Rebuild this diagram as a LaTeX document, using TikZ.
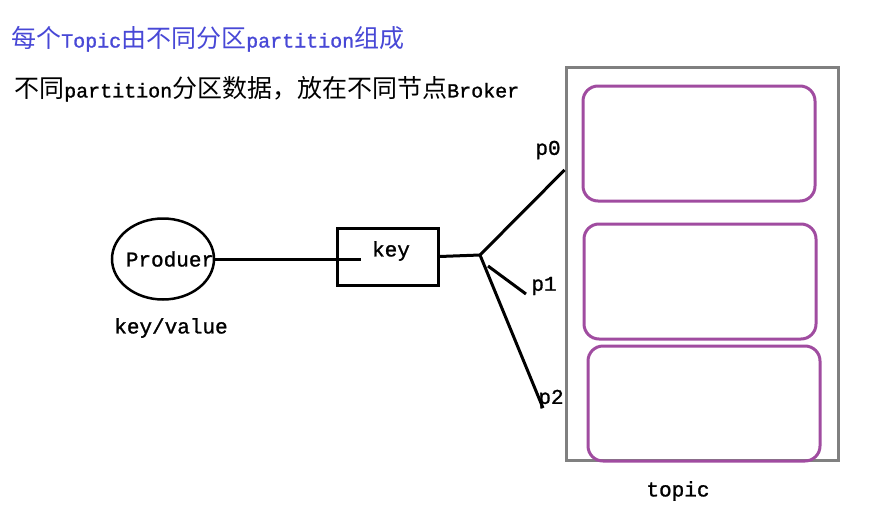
\documentclass[tikz,border=0pt]{standalone}
\usepackage{fontspec}
\setmainfont[FakeBold=1.2,AutoFakeBold=1.2]{Liberation Mono}
\newfontfamily\zhfont[Scale=1.25]{Noto Sans CJK SC}
\newcommand{\zh}[1]{{\zhfont\mdseries #1}}
\usetikzlibrary{shapes.geometric}
\definecolor{titleblue}{RGB}{72,72,214}
\definecolor{partpurple}{RGB}{160,76,160}
\definecolor{topicgray}{RGB}{128,128,128}
\begin{document}
\begin{tikzpicture}[x=1pt,y=-1pt,
		lbl/.style={inner sep=0pt,font=\fontsize{21}{24}\selectfont\bfseries},
		txt/.style={inner sep=0pt,anchor=west,font=\fontsize{20}{24}\selectfont\bfseries},
		wire/.style={line width=3pt}]
	\useasboundingbox (0,0) rectangle (872,514);
	% Texts on top
	\node[txt,text=titleblue] (title) at (11,39) {\zh{每个}Topic\zh{由不同分区}partition\zh{组成}};
	\node[txt] (note) at (14,89) {\zh{不同}partition\zh{分区数据，放在不同节点}Broker};
	
	% Producer
	\node[draw,ellipse,line width=2.5pt,minimum width=102pt,minimum height=81pt] (prod) at (163,259) {};
	\node[lbl] (prodtxt) at (170,259) {Produer};
	\node[lbl] (kv) at (171,328) {key/value};
	
	% Key
	\node[draw,line width=3pt,minimum width=101pt,minimum height=57pt] (key) at (387.5,256.5) {};
	\node[lbl] (keytxt) at (391,251) {key};
	\coordinate (keyin) at (361,259);
	\draw[wire] (prod.east) -- (keyin);
	
	% Topic with its partitions
	\node[draw=topicgray,line width=3pt,minimum width=272pt,minimum height=393pt] (topic) at (702,263.5) {};
	\node[lbl] (topictxt) at (678,491) {topic};
	\foreach \xa/\xb/\ya/\yb in {583/815/86/201, 584/816/224/339, 588/820/346/461}{
		\draw[partpurple,line width=3pt,rounded corners=15pt] (\xa,\ya) rectangle (\xb,\yb);
	}
	
	% Fork to the partitions
	\coordinate (fork) at (480,255);
	\coordinate (p0end) at (topic.west |- 0,170);
	\coordinate (p1a) at (488,266);
	\coordinate (p1b) at (526,294);
	\coordinate (p2end) at (543,408);
	\draw[wire] (key.east) -- (fork);
	\draw[wire] (fork) -- (p0end);
	\draw[wire] (p1a) -- (p1b);
	\draw[wire] (fork) -- (p2end);
	\node[lbl] (p0) at (548,150) {p0};
	\node[lbl] (p1) at (544,286) {p1};
	\node[lbl] (p2) at (551,399) {p2};
\end{tikzpicture}
\end{document}
